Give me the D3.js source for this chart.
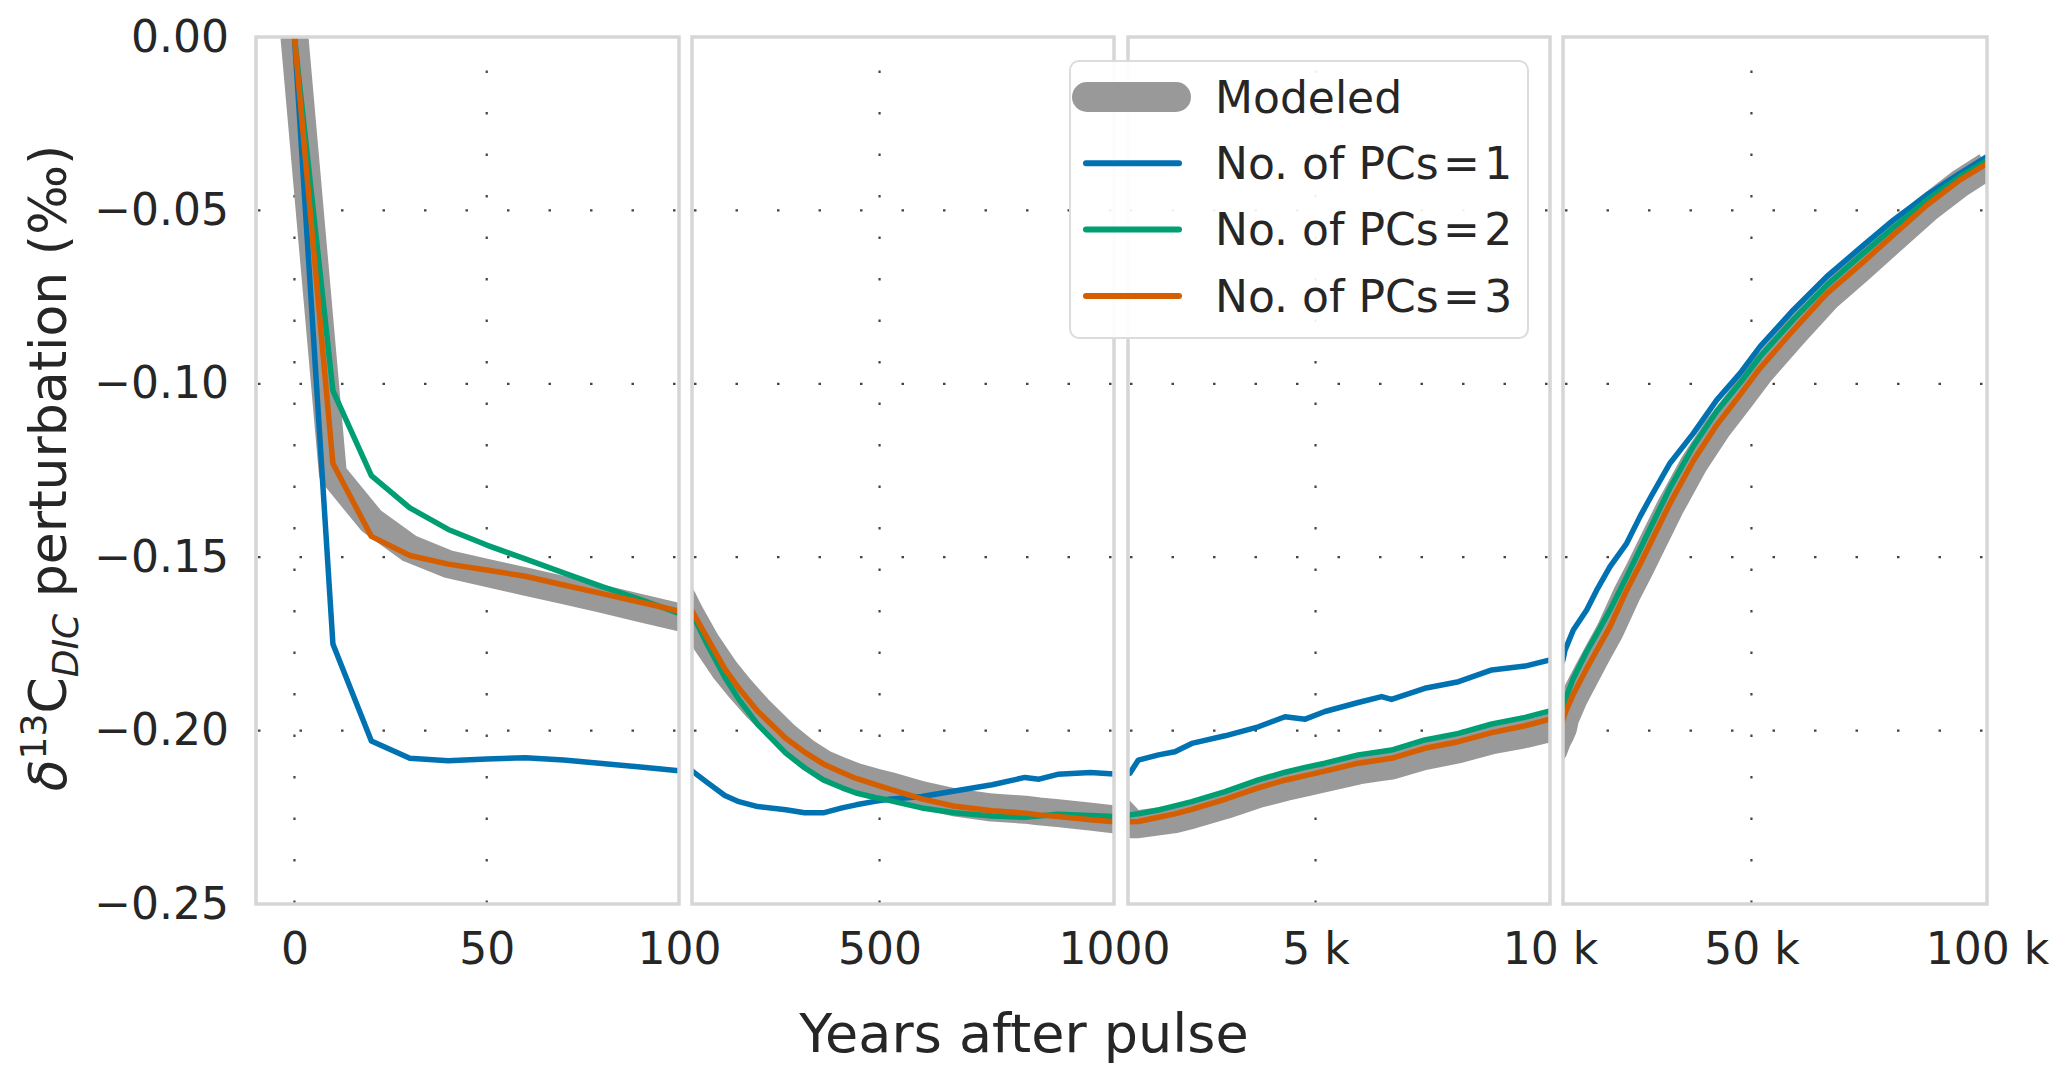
<!DOCTYPE html>
<html>
<head>
<meta charset="utf-8">
<script src="https://cdn.jsdelivr.net/npm/d3@7"></script>
<style>
  body { margin: 0; background: #fff; }
  svg { display: block; font-family: 'DejaVu Sans', sans-serif; }
</style>
</head>
<body>
<svg id="chart" width="2067" height="1084"></svg>
<script>
// years after the pulse (shared by every series)
const years = [
  0, 10, 20, 30, 40, 50, 60, 70, 80, 90, 100,
  130, 170, 200, 240, 300, 340, 380, 420, 450, 490, 520, 590, 660, 740, 810, 840, 880, 950, 1000,
  1040, 1220, 1650, 2000, 2360, 3070, 3780, 4350, 4780, 5200, 5910, 6410, 6620, 7330, 8050, 8760, 9470, 10000,
  10430, 12190, 15030, 17150, 19980, 23520, 26340, 28470, 32710, 37660, 42620, 47570, 51820, 58890, 65970, 73040, 80110, 87200, 94270, 100000
]

const modeled = [
  0, -0.126, -0.1395, -0.1475, -0.152, -0.1545, -0.157, -0.1595, -0.162, -0.1647, -0.1673,
  -0.1745, -0.1825, -0.1875, -0.1936, -0.2016, -0.2060, -0.2095, -0.2118, -0.2134, -0.2149, -0.2159, -0.2186, -0.2207, -0.2222, -0.2228, -0.2233, -0.2238, -0.2248, -0.2256,
  -0.2270, -0.2270, -0.2262, -0.2255, -0.2243, -0.2215, -0.2183, -0.2163, -0.2150, -0.2137, -0.2115, -0.2105, -0.2101, -0.2073, -0.2054, -0.2028, -0.2010, -0.1993,
  -0.1966, -0.1910, -0.1836, -0.1782, -0.1712, -0.1607, -0.1533, -0.1474, -0.1357, -0.1234, -0.1131, -0.1044, -0.0967, -0.0857, -0.0752, -0.0668, -0.0582, -0.0496, -0.0422, -0.0372
]

const pc1 = [
  0, -0.175, -0.203, -0.208, -0.2087, -0.2082, -0.2078, -0.2085, -0.2095, -0.2105, -0.2116,
  -0.2147, -0.2187, -0.2205, -0.2219, -0.2228, -0.2237, -0.2237, -0.2223, -0.2214, -0.2204, -0.2198, -0.2190, -0.2174, -0.2156, -0.2135, -0.2140, -0.2126, -0.2121, -0.2125,
  -0.2123, -0.2085, -0.2070, -0.2061, -0.2037, -0.2015, -0.1989, -0.1960, -0.1967, -0.1945, -0.1919, -0.1902, -0.1910, -0.1878, -0.1859, -0.1825, -0.1814, -0.1796,
  -0.1768, -0.1710, -0.1652, -0.1595, -0.1527, -0.1460, -0.1383, -0.1330, -0.1229, -0.1143, -0.1047, -0.0970, -0.0893, -0.0787, -0.0691, -0.0609, -0.0528, -0.0456, -0.0393, -0.0345
]

const pc2 = [
  0, -0.102, -0.1265, -0.1358, -0.142, -0.1465, -0.1505, -0.1545, -0.1585, -0.1622, -0.1662,
  -0.1745, -0.1846, -0.1910, -0.1982, -0.2065, -0.2107, -0.2142, -0.2165, -0.2180, -0.2193, -0.2201, -0.2223, -0.2237, -0.2246, -0.2250, -0.2246, -0.2241, -0.2245, -0.2248,
  -0.2243, -0.2240, -0.2229, -0.2217, -0.2205, -0.2176, -0.2142, -0.2120, -0.2106, -0.2094, -0.2070, -0.2060, -0.2056, -0.2027, -0.2008, -0.1981, -0.1962, -0.1943,
  -0.1912, -0.1850, -0.1772, -0.1722, -0.1652, -0.1556, -0.1478, -0.1418, -0.1300, -0.1180, -0.1080, -0.0998, -0.0922, -0.0815, -0.0716, -0.0632, -0.0550, -0.0470, -0.0402, -0.0356
]

const pc3 = [
  0, -0.123, -0.144, -0.1495, -0.152, -0.1537, -0.1555, -0.158, -0.1605, -0.163, -0.1655,
  -0.1727, -0.1822, -0.1878, -0.1944, -0.2022, -0.2062, -0.2096, -0.2121, -0.2138, -0.2155, -0.2168, -0.2197, -0.2218, -0.2231, -0.2238, -0.2243, -0.2248, -0.2257, -0.2263,
  -0.2263, -0.2262, -0.2250, -0.2240, -0.2227, -0.2198, -0.2165, -0.2143, -0.2130, -0.2117, -0.2094, -0.2084, -0.2080, -0.2051, -0.2032, -0.2006, -0.1986, -0.1967,
  -0.1950, -0.1895, -0.1821, -0.1769, -0.1700, -0.1595, -0.1521, -0.1462, -0.1345, -0.1222, -0.1119, -0.1032, -0.0955, -0.0845, -0.0740, -0.0657, -0.0571, -0.0485, -0.0412, -0.0365
]

// broken x axis: one linear panel per decade
const panelDomains = [[-10, 100], [100, 1000], [1000, 10000], [10000, 100000]]
const panelTicks = [[0, 50, 100], [500, 1000], [5000, 10000], [50000, 100000]]
const panelTickLabels = [['0', '50', '100'], ['500', '1000'], ['5 k', '10 k'], ['50 k', '100 k']]
const yTicks = [0, -0.05, -0.1, -0.15, -0.2, -0.25]

const series = [
  { name: 'Modeled', values: modeled, color: '#999999', width: 28 },
  { name: 'No. of PCs\u200a=\u200a1', values: pc1, color: '#0072b2', width: 5.5 },
  { name: 'No. of PCs\u200a=\u200a2', values: pc2, color: '#009e73', width: 5.5 },
  { name: 'No. of PCs\u200a=\u200a3', values: pc3, color: '#d55e00', width: 5.5 },
]

const panelPx = [[256, 679], [692, 1114], [1128, 1550], [1563, 1987]]
const plotTop = 37
const plotBottom = 904
const textColor = '#262626'

const svg = d3.select('#chart')
const y = d3.scaleLinear().domain([-0.25, 0]).range([plotBottom, plotTop])

panelDomains.forEach((dom, p) => {
  const x = d3.scaleLinear().domain(dom).range(panelPx[p])
  const g = svg.append('g')
  const x0 = panelPx[p][0]
  const x1 = panelPx[p][1]

  g.append('clipPath')
    .attr('id', `clip${p}`)
    .append('rect')
    .attr('x', x0).attr('y', plotTop)
    .attr('width', x1 - x0).attr('height', plotBottom - plotTop)

  // dotted grid
  const grid = g.append('g')
    .attr('stroke', '#444')
    .attr('stroke-width', 2.2)
    .attr('stroke-dasharray', '2.5 39')
  grid.selectAll('line.h')
    .data(yTicks.filter((d) => d < 0 && d > -0.25))
    .join('line')
    .attr('class', 'h')
    .attr('x1', x0 + 2).attr('x2', x1)
    .attr('y1', (d) => y(d)).attr('y2', (d) => y(d))
  grid.selectAll('line.v')
    .data(panelTicks[p].filter((d) => d > dom[0] && d < dom[1]))
    .join('line')
    .attr('class', 'v')
    .attr('x1', (d) => x(d)).attr('x2', (d) => x(d))
    .attr('y1', plotBottom - 1).attr('y2', plotTop)

  const line = d3.line()
    .x((d) => x(d[0]))
    .y((d) => y(d[1]))

  const lines = g.append('g').attr('clip-path', `url(#clip${p})`)
  series.forEach((s) => {
    lines.append('path')
      .datum(years.map((t, i) => [t, s.values[i]]))
      .attr('fill', 'none')
      .attr('stroke', s.color)
      .attr('stroke-width', s.width)
      .attr('stroke-linejoin', 'round')
      .attr('d', line)
  })

  // frame
  g.append('rect')
    .attr('x', x0).attr('y', plotTop)
    .attr('width', x1 - x0).attr('height', plotBottom - plotTop)
    .attr('fill', 'none')
    .attr('stroke', '#d6d6d6')
    .attr('stroke-width', 3.5)

  const xAxis = d3.axisBottom(x)
    .tickValues(panelTicks[p])
    .tickFormat((d, i) => panelTickLabels[p][i])
    .tickSize(0)
    .tickPadding(29)
  const ax = g.append('g').attr('transform', `translate(0,${plotBottom})`).call(xAxis)
  ax.select('.domain').remove()
  ax.selectAll('text')
    .attr('fill', textColor)
    .style('font-size', '44px')
    .style('font-family', 'DejaVu Sans')
})

// y axis labels
const yAxis = d3.axisLeft(y)
  .tickValues(yTicks)
  .tickFormat((d) => d3.format('.2f')(d).replace('-', '\u2212'))
  .tickSize(0)
  .tickPadding(27)
const ay = svg.append('g').attr('transform', `translate(${panelPx[0][0]},0)`).call(yAxis)
ay.select('.domain').remove()
ay.selectAll('text')
  .attr('fill', textColor)
  .style('font-size', '44px')
  .style('font-family', 'DejaVu Sans')

// axis titles
svg.append('text')
  .attr('x', 1024).attr('y', 1052)
  .attr('text-anchor', 'middle')
  .attr('fill', textColor)
  .style('font-size', '54px')
  .text('Years after pulse')

const yl = svg.append('text')
  .attr('transform', 'translate(66,468) rotate(-90)')
  .attr('text-anchor', 'middle')
  .attr('fill', textColor)
  .style('font-size', '52px')
yl.append('tspan').style('font-style', 'italic').text('δ')
yl.append('tspan').attr('dy', -20).style('font-size', '36px').text('13')
yl.append('tspan').attr('dy', 20).text('C')
yl.append('tspan').attr('dy', 12).style('font-size', '36px').style('font-style', 'italic').text('DIC')
yl.append('tspan').attr('dy', -12).text(' perturbation (‰)')

// legend
const lg = svg.append('g')
lg.append('rect')
  .attr('x', 1070).attr('y', 61)
  .attr('width', 458).attr('height', 277)
  .attr('rx', 9)
  .attr('fill', '#fff').attr('fill-opacity', 0.92)
  .attr('stroke', '#dcdcdc').attr('stroke-width', 2)

const row = lg.selectAll('g.item')
  .data(series)
  .join('g')
  .attr('class', 'item')
  .attr('transform', (d, i) => `translate(0,${97 + i * 66.3})`)
row.append('line')
  .attr('x1', (d, i) => (i === 0 ? 1087 : 1086))
  .attr('x2', (d, i) => (i === 0 ? 1176 : 1179))
  .attr('stroke', (d) => d.color)
  .attr('stroke-width', (d, i) => (i === 0 ? 30 : 6))
  .attr('stroke-linecap', 'round')
row.append('text')
  .attr('x', 1215)
  .attr('dy', '0.36em')
  .attr('fill', textColor)
  .style('font-size', '44px')
  .text((d) => d.name)
</script>
</body>
</html>
